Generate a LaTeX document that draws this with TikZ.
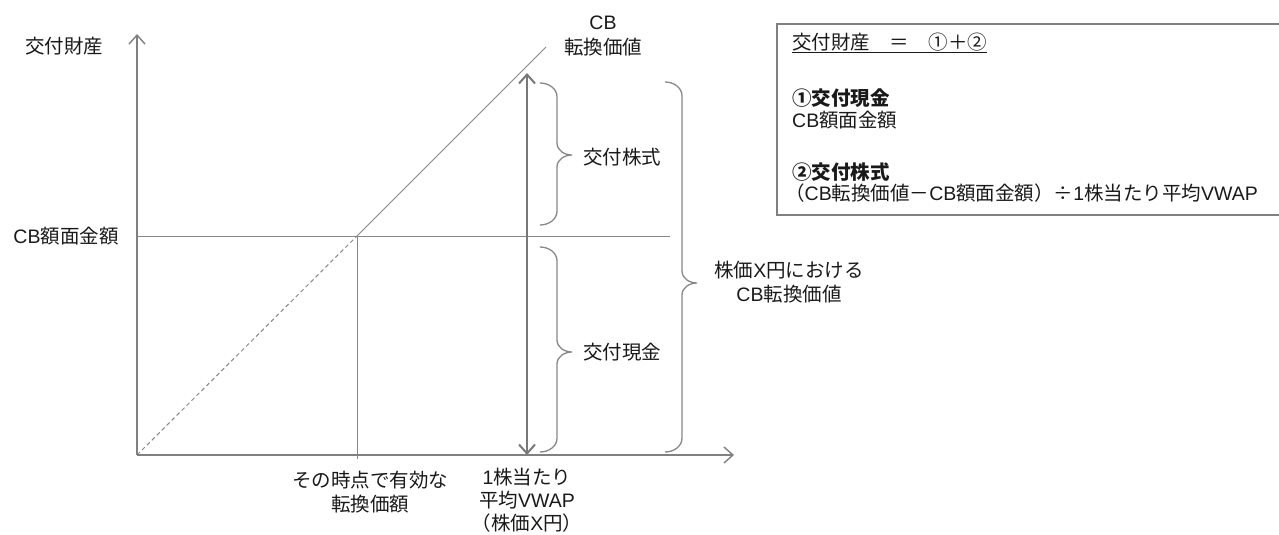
\documentclass[tikz,border=0pt]{standalone}
\usepackage{fontspec}
\setmainfont{Noto Sans CJK JP}
\newfontfamily\lat{Liberation Sans}
\usetikzlibrary{arrows.meta}
\definecolor{axgray}{RGB}{128,128,128}
\definecolor{lngray}{RGB}{135,135,135}
\definecolor{dkgray}{RGB}{120,120,120}
\definecolor{txt}{RGB}{25,25,25}
\begin{document}
\begin{tikzpicture}[x=1pt,y=-1pt,
  barb/.tip={Straight Barb[length=9pt,width=16pt]},
  axis/.style={draw=axgray,line width=1.4pt,-barb},
  thinl/.style={draw=lngray,line width=1pt},
  dashl/.style={thinl,dash pattern=on 4pt off 3pt},
  dbl/.style={draw=dkgray,line width=2pt,barb-barb},
  brc/.style={draw=lngray,line width=1.3pt},
  lbl/.style={inner sep=0pt,text=txt,font=\fontsize{19.5}{24.5}\selectfont},
  boxt/.style={lbl,anchor=west,font=\fontsize{19.5}{22}\selectfont},
  boxb/.style={boxt,font=\fontsize{19.5}{22}\selectfont\bfseries},
  frame/.style={draw=axgray,line width=1.6pt,inner sep=0pt,anchor=north west}]
\useasboundingbox (0,0) rectangle (1279,535);
% key points
\coordinate (O) at (137,455);
\coordinate (Ytop) at (137,34);
\coordinate (Xend) at (734,455);
\coordinate (Fl) at (137,236);
\coordinate (Fr) at (670,236);
\coordinate (P) at (357,236);
\coordinate (Pb) at (357,459);
\coordinate (D) at (546,47);
\coordinate (Ab) at (527,455);
\coordinate (At) at (527,73);
% lines
\draw[thinl] (Fl) -- (Fr);
\draw[thinl] (P) -- (Pb);
\draw[dashl] (O) -- (P);
\draw[thinl] (P) -- (D);
\draw[axis] (O) -- (Ytop);
\draw[axis] (O) -- (Xend);
\draw[dbl] (Ab) -- (At);
% braces
\draw[brc] (540,83) to[out=0,in=90] (557,97) -- (557,143) to[out=-90,in=180] (572,155)
  to[out=180,in=90] (557,167) -- (557,211) to[out=-90,in=0] (540,225);
\draw[brc] (540,247) to[out=0,in=90] (557,261) -- (557,340) to[out=-90,in=180] (572,352)
  to[out=180,in=90] (557,364) -- (557,438) to[out=-90,in=0] (540,452);
\draw[brc] (665,82) to[out=0,in=90] (682,96) -- (682,271) to[out=-90,in=180] (697,283)
  to[out=180,in=90] (682,295) -- (682,438) to[out=-90,in=0] (665,452);
% labels
\node[lbl] (ylab) at (64,46) {交付財産};
\node[lbl] (flab) at (66,236) {{\lat CB}額面金額};
\node[lbl,align=center] (cbv) at (603,36) {{\lat CB}\\転換価値};
\node[lbl,anchor=west] (kabu) at (583,157) {交付株式};
\node[lbl,anchor=west] (gen) at (583,352) {交付現金};
\node[lbl,align=center] (kv) at (789,282) {株価{\lat X}円における\\{\lat CB}転換価値};
\node[lbl,align=center] (cp) at (370,492) {その時点で有効な\\転換価額};
\node[lbl,align=center,font=\fontsize{19.5}{23}\selectfont] (vw) at (527,500) {{\lat 1}株当たり\\平均{\lat VWAP}\\（株価{\lat X}円）};
% box
\node[frame,minimum width=506pt,minimum height=191pt] (box) at (776,23) {};
\node[boxt] (b1) at (792,43) {\underline{交付財産　＝　①＋②}};
\node[boxb] (b2) at (792,98) {①交付現金};
\node[boxt] (b3) at (792,120) {{\lat CB}額面金額};
\node[boxb] (b4) at (792,172) {②交付株式};
\node[boxt] (b5) at (785,193) {（{\lat CB}転換価値－{\lat CB}額面金額）÷{\lat 1}株当たり平均{\lat VWAP}};
\end{tikzpicture}
\end{document}
